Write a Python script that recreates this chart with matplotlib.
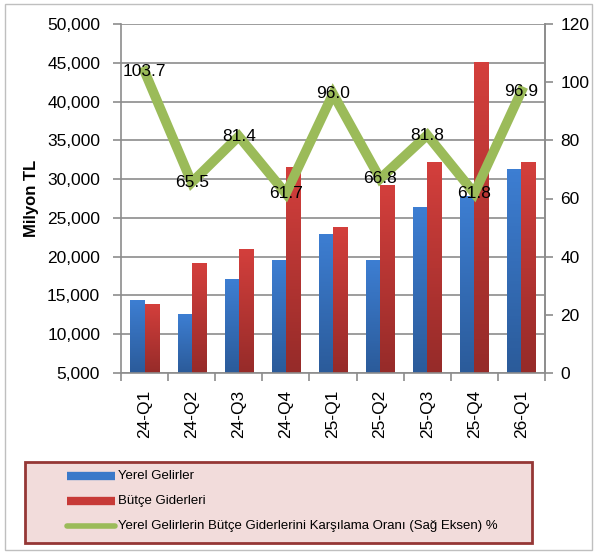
import matplotlib
matplotlib.use("Agg")
import matplotlib.pyplot as plt
import numpy as np
from matplotlib.patches import Rectangle
from matplotlib.lines import Line2D
from matplotlib.colors import LinearSegmentedColormap

categories = ["24-Q1", "24-Q2", "24-Q3", "24-Q4", "25-Q1", "25-Q2", "25-Q3", "25-Q4", "26-Q1"]
yerel_gelirler = [14300, 12500, 17000, 19450, 22850, 19500, 26300, 27800, 31200]
butce_giderleri = [13800, 19100, 20900, 31500, 23800, 29200, 32100, 45000, 32200]
oran = [103.7, 65.5, 81.4, 61.7, 96.0, 66.8, 81.8, 61.8, 96.9]
left_ticks = [5000, 10000, 15000, 20000, 25000, 30000, 35000, 40000, 45000, 50000]
right_ticks = [0, 20, 40, 60, 80, 100, 120]
legend_labels = ["Yerel Gelirler", "Bütçe Giderleri",
                 "Yerel Gelirlerin Bütçe Giderlerini Karşılama Oranı (Sağ Eksen) %"]

plt.rcParams['font.family'] = ['Liberation Sans', 'DejaVu Sans']

W, H = 597, 554
fig = plt.figure(figsize=(W / 100, H / 100), dpi=100)
ax = fig.add_axes([121 / W, 1 - 373 / H, 424 / W, 349 / H])
ax2 = ax.twinx()

x = np.arange(len(categories))
w = 0.3
blue_cmap = LinearSegmentedColormap.from_list("b", ["#2B5B9A", "#3D7ED2"])
red_cmap = LinearSegmentedColormap.from_list("r", ["#962B29", "#D33F3C"])
grad = np.linspace(0, 1, 64).reshape(-1, 1)

for i in range(len(categories)):
    for off, val, cm in ((-w / 2, yerel_gelirler[i], blue_cmap), (w / 2, butce_giderleri[i], red_cmap)):
        ax.imshow(grad, cmap=cm, origin='lower', aspect='auto',
                  extent=(x[i] + off - w / 2, x[i] + off + w / 2, 5000, val), zorder=2)
ax.set_xlim(-0.5, len(categories) - 0.5)
ax.set_ylim(5000, 50000)

ax.set_yticks(left_ticks)
ax.set_yticklabels([f"{v:,}" for v in left_ticks], fontsize=12.5)
ax.yaxis.grid(True, color="#8C8C8C", linewidth=1.2, zorder=0)
ax.set_axisbelow(True)
ax.set_xticks(x)
ax.set_xticklabels(categories, rotation=90, fontsize=12.5)
ax.tick_params(axis='x', length=0, pad=12)
ax.set_xticks(np.arange(-0.5, len(categories)), minor=True)
ax.tick_params(axis='x', which='minor', length=6, color="#8C8C8C", width=1.2)
ax.tick_params(axis='y', length=6, color="#8C8C8C", width=1.2, pad=9)
ax.set_ylabel("Milyon TL", fontsize=12, fontweight='bold', labelpad=6)
ax.spines['top'].set_visible(False)
for s in ['left', 'right', 'bottom']:
    ax.spines[s].set_color("#8C8C8C")
    ax.spines[s].set_linewidth(1.2)

ax2.plot(x, oran, color="#9BBB59", linewidth=7, solid_joinstyle='miter', zorder=3)
for xi, v in zip(x, oran):
    ax2.text(xi, v, f"{v:.1f}", ha='center', va='center', fontsize=12.5, zorder=4)
ax2.set_ylim(0, 120)
ax2.set_yticks(right_ticks)
ax2.set_yticklabels([str(v) for v in right_ticks], fontsize=12.5)
ax2.tick_params(axis='y', length=6, color="#8C8C8C", width=1.2, pad=5)
for s in ['top', 'left', 'bottom']:
    ax2.spines[s].set_visible(False)
ax2.spines['right'].set_color("#8C8C8C")
ax2.spines['right'].set_linewidth(1.2)

# outer border
fig.patches.append(Rectangle((5 / W, 4 / H), 587 / W, 546 / H, transform=fig.transFigure,
                             fill=False, edgecolor="#BFBFBF", linewidth=1))

# legend box
fig.patches.append(Rectangle((25 / W, 1 - 543 / H), 507 / W, 81 / H, transform=fig.transFigure,
                             facecolor="#F2DCDB", edgecolor="#953735", linewidth=2, zorder=5))
leg_colors = ["#3A79C9", "#C73A37", "#9BBB59"]
leg_y = [476, 501, 526]
for k, (lab, col, yy) in enumerate(zip(legend_labels, leg_colors, leg_y)):
    yf = 1 - yy / H
    if k < 2:
        fig.add_artist(Line2D([67 / W, 115 / W], [yf, yf], color=col, linewidth=6,
                              solid_capstyle='butt', transform=fig.transFigure, zorder=6))
    else:
        fig.add_artist(Line2D([67 / W, 115 / W], [yf, yf], color=col, linewidth=4,
                              solid_capstyle='round', transform=fig.transFigure, zorder=6))
    fig.text(118 / W, yf, lab, fontsize=9.5, va='center', ha='left', zorder=7)

fig.savefig("out.png", dpi=100)
